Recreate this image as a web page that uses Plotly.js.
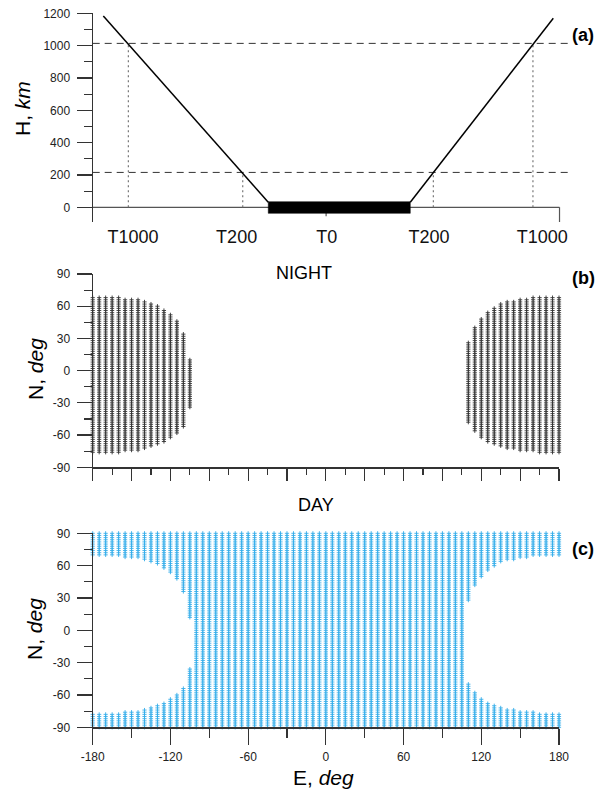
<!DOCTYPE html>
<html><head><meta charset="utf-8">
<script src="https://cdn.plot.ly/plotly-3.0.1.min.js"></script>
<style>body{margin:0;background:#fff}#c{width:599px;height:790px}</style>
</head><body><div id="c"></div>
<script>
// ---- panel (a) data ----
const hLeftLon = [-171.8, -44.6];
const hLeftKm = [1183, 32];
const hRightLon = [64.9, 175.2];
const hRightKm = [32, 1169];
const barLon = [-44.6, 64.9];
const barKm = [-37, 35];
const levelKm = [1014, 216];
const crossLon = [-152.5, -64.3, 82.7, 159.5];
const crossKm = [1014, 216, 216, 1014];
const tLabels = ['T1000', 'T200', 'T0', 'T200', 'T1000'];
const tLabelLon = [-149, -69, 0.5, 79.4, 166.6];
const hTicks = [0, 200, 400, 600, 800, 1000, 1200];
const latTicks = [-90, -60, -30, 0, 30, 60, 90];
const latTickText = ['-90', '-60', '-30', '0', '30', '60', '90'];
const lonTicks = [-180, -120, -60, 0, 60, 120, 180];
const lonTickText = ['-180', '-120', '-60', '0', '60', '120', '180'];

// ---- panels (b),(c): night region boundaries per longitude ----
const nightLonW = [-180,-175,-170,-165,-160,-155,-150,-145,-140,-135,-130,-125,-120,-115,-110,-105];
const nightNorthW = [70.4,70.8,70.8,70.8,70.8,68.9,68.9,68.9,65.8,63.6,61.1,58.6,53.4,47.2,36.9,11.5];
const nightSouthW = [-78.6,-78.6,-78.6,-78.6,-78.6,-76.4,-76.4,-76.4,-73.9,-72.3,-69.9,-67.7,-64.6,-60.5,-53.7,-36];
const nightLonE = [110,115,120,125,130,135,140,145,150,155,160,165,170,175,180];
const nightNorthE = [27,41.6,50.9,55.9,60.5,63.6,65.8,65.8,68.9,68.9,70.4,70.8,70.8,70.8,70.8];
const nightSouthE = [-49,-58.4,-63,-68.3,-70.8,-72.3,-73.9,-74.5,-75.4,-76.4,-76.4,-77.7,-78.6,-78.6,-78.6];
const gridLonStep = 5, gridLatStep = 2;

// build grid
const nightMap = {};
nightLonW.forEach((l,i)=>nightMap[l]=[nightSouthW[i]+1, nightNorthW[i]-1]);
nightLonE.forEach((l,i)=>nightMap[l]=[nightSouthE[i]+1, nightNorthE[i]-1]);
const nx=[], ny=[], dx=[], dy=[];
for (let lon=-180; lon<=180; lon+=gridLonStep){
  for (let lat=-90; lat<=90; lat+=gridLatStep){
    const r = nightMap[lon];
    if (r && lat>=r[0] && lat<=r[1]) { nx.push(lon); ny.push(lat); }
    else { dx.push(lon); dy.push(lat); }
  }
}

const FONT = 'Liberation Sans, Arial, sans-serif';
const AX = '#333';
const traces = [];
// panel a
levelKm.forEach(k=>traces.push({x:[-180,187], y:[k,k], mode:'lines', xaxis:'x', yaxis:'y',
  line:{color:'#333', width:1, dash:'7px,5px'}, hoverinfo:'skip'}));
crossLon.forEach((c,i)=>traces.push({x:[c,c], y:[0,crossKm[i]], mode:'lines', xaxis:'x', yaxis:'y',
  line:{color:'#777', width:1.2, dash:'2px,3px'}, hoverinfo:'skip'}));
traces.push({x:[barLon[0],barLon[1],barLon[1],barLon[0],barLon[0]], y:[barKm[0],barKm[0],barKm[1],barKm[1],barKm[0]],
  mode:'lines', fill:'toself', fillcolor:'#000', line:{color:'#000', width:0.5}, xaxis:'x', yaxis:'y'});
traces.push({x:hLeftLon, y:hLeftKm, mode:'lines', line:{color:'#000', width:1.5}, xaxis:'x', yaxis:'y'});
traces.push({x:hRightLon, y:hRightKm, mode:'lines', line:{color:'#000', width:1.5}, xaxis:'x', yaxis:'y'});
// panel b
traces.push({x:nx, y:ny, mode:'markers', xaxis:'x2', yaxis:'y2', cliponaxis:false,
  marker:{symbol:'cross-thin', size:3, color:'#333', line:{width:0.9, color:'#333'}}});
// panel c
traces.push({x:dx, y:dy, mode:'markers', xaxis:'x3', yaxis:'y3', cliponaxis:false,
  marker:{symbol:'cross-thin', size:3, color:'#35aeea', line:{width:0.9, color:'#35aeea'}}});

const W=599, H=790;
const px = v=>v/W, py = v=>1-v/H;
const yAxisCommon = {showline:true, linecolor:AX, linewidth:1.2, ticks:'outside', tickcolor:AX, tickwidth:1.2,
  ticklen:15, showgrid:false, zeroline:false, ticklabelstandoff:4, tickfont:{family:FONT, size:12, color:'#222'}};
const minorLat = {ticks:'outside', ticklen:8, tickmode:'array', tickvals:[-75,-45,-15,15,45,75], tickcolor:AX, tickwidth:1.2};

const layout = {
  width:W, height:H, margin:{l:0,r:0,t:0,b:0}, paper_bgcolor:'#fff', plot_bgcolor:'rgba(0,0,0,0)',
  showlegend:false, font:{family:FONT, color:'#000'},
  xaxis:{domain:[px(92.7), px(568.6)], range:[-180,187], anchor:'y', showline:false, showgrid:false, zeroline:false,
    ticks:'', tickmode:'array', tickvals:tLabelLon, ticktext:tLabels, ticklabelstandoff:2, tickfont:{family:FONT, size:18, color:'#111'}},
  yaxis:Object.assign({}, yAxisCommon, {domain:[py(221.9), py(13.3)], range:[-90,1200], anchor:'x',
    tickmode:'array', tickvals:hTicks, minor:{ticks:'outside', ticklen:8, dtick:100, tick0:0, tickcolor:AX, tickwidth:1.2}}),
  xaxis2:{domain:[px(92.7), px(559)], range:[-180,180], anchor:'y2', showline:true, linecolor:AX, linewidth:1.2,
    ticks:'outside', ticklen:12.7, tickcolor:AX, tickwidth:1.2, tickmode:'linear', tick0:0, dtick:30, showticklabels:false,
    showgrid:false, zeroline:false, minor:{ticks:'outside', ticklen:6.7, dtick:15, tick0:0, tickcolor:AX, tickwidth:1.2}},
  yaxis2:Object.assign({}, yAxisCommon, {domain:[py(467.3), py(274)], range:[-90,90], anchor:'x2',
    tickmode:'array', tickvals:latTicks, ticktext:latTickText, minor:minorLat}),
  xaxis3:{domain:[px(92.7), px(559)], range:[-180,180], anchor:'y3', showline:true, linecolor:AX, linewidth:1.2,
    ticks:'outside', ticklen:16, tickcolor:AX, tickwidth:1.2, tickmode:'array', tickvals:lonTicks, ticktext:lonTickText,
    ticklabelstandoff:2, tickfont:{family:FONT, size:12, color:'#222'},
    showgrid:false, zeroline:false, minor:{ticks:'outside', ticklen:9, tickmode:'array', tickvals:[-150,-90,-30,30,90,150], tickcolor:AX, tickwidth:1.2}},
  yaxis3:Object.assign({}, yAxisCommon, {domain:[py(727.3), py(533.3)], range:[-90,90], anchor:'x3',
    tickmode:'array', tickvals:latTicks, ticktext:latTickText, minor:minorLat}),
  shapes:[
    {type:'line', layer:'below', xref:'x', yref:'y', x0:-180, x1:180, y0:0, y1:0, line:{color:'#555', width:1.2}},
    {type:'line', layer:'below', xref:'x', yref:'y', x0:180, x1:180, y0:0, y1:-90, line:{color:'#555', width:1.2}},
    {type:'line', layer:'below', xref:'x', yref:'y', x0:0, x1:0, y0:0, y1:-55, line:{color:'#555', width:1.2}}
  ],
  annotations:[
    {text:'H, <i>km</i>', x:px(22.5), y:py(108.5), textangle:-90},
    {text:'N, <i>deg</i>', x:px(35), y:py(369), textangle:-90},
    {text:'N, <i>deg</i>', x:px(34), y:py(629), textangle:-90},
    {text:'E, <i>deg</i>', x:px(323), y:py(777), textangle:0},
  ].map(a=>Object.assign(a,{xref:'paper', yref:'paper', showarrow:false, xanchor:'center', yanchor:'middle',
     font:{family:FONT, size:21, color:'#000'}}))
  .concat([
    {text:'NIGHT', x:px(304), y:py(273), size:18},
    {text:'DAY', x:px(316), y:py(505), size:18},
    {text:'<b>(a)</b>', x:px(583), y:py(35), size:18},
    {text:'<b>(b)</b>', x:px(583), y:py(278), size:18},
    {text:'<b>(c)</b>', x:px(583), y:py(549), size:18}
  ].map(a=>({text:a.text, x:a.x, y:a.y, xref:'paper', yref:'paper', showarrow:false, xanchor:'center', yanchor:'middle',
     font:{family:FONT, size:a.size, color:'#000'}})))
};
Plotly.newPlot('c', traces, layout, {displayModeBar:false, staticPlot:true});
</script></body></html>
